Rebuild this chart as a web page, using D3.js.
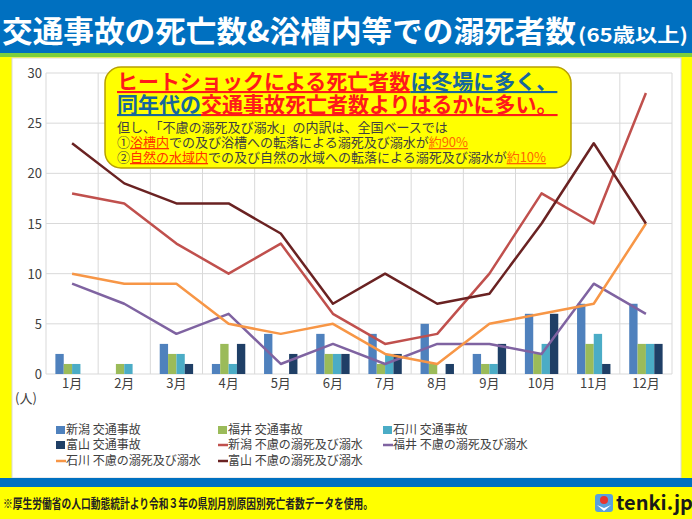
<!DOCTYPE html>
<html><head><meta charset="utf-8">
<script src="https://cdnjs.cloudflare.com/ajax/libs/d3/7.8.5/d3.min.js"></script>
<style>body{margin:0;background:#fff}svg{display:block}text{font-family:"Noto Sans CJK JP","Noto Sans",sans-serif}</style>
</head><body><svg id="c" width="692" height="519"></svg>
<script>
const months = ["1月","2月","3月","4月","5月","6月","7月","8月","9月","10月","11月","12月"];
const yTicks = [0,5,10,15,20,25,30];
// 交通事故 (bars)
const niigataTraffic = [2,0,3,1,4,4,4,5,2,6,7,7];
const fukuiTraffic   = [1,1,2,3,0,2,1,1,1,2,3,3];
const ishikawaTraffic= [1,1,2,1,0,2,2,0,1,3,4,3];
const toyamaTraffic  = [0,0,1,3,2,2,2,1,3,6,1,3];
// 不慮の溺死及び溺水 (lines)
const niigataDrown  = [18,17,13,10,13,6,3,4,10,18,15,28];
const fukuiDrown    = [9,7,4,6,1,3,1,3,3,2,9,6];
const ishikawaDrown = [10,9,9,5,4,5,2,1,5,6,7,15];
const toyamaDrown   = [23,19,17,17,14,7,10,7,8,15,23,15];

const barSeries = [
  {name:"新潟 交通事故", values:niigataTraffic, color:"#4f81bd"},
  {name:"福井 交通事故", values:fukuiTraffic, color:"#9bbb59"},
  {name:"石川 交通事故", values:ishikawaTraffic, color:"#4bacc6"},
  {name:"富山 交通事故", values:toyamaTraffic, color:"#1f3f66"}
];
const lineSeries = [
  {name:"新潟 不慮の溺死及び溺水", values:niigataDrown, color:"#c0504d"},
  {name:"福井 不慮の溺死及び溺水", values:fukuiDrown, color:"#7f63a1"},
  {name:"石川 不慮の溺死及び溺水", values:ishikawaDrown, color:"#f79646"},
  {name:"富山 不慮の溺死及び溺水", values:toyamaDrown, color:"#6a2222"}
];

const svg = d3.select("#c");
// backgrounds
svg.append("rect").attr("width",692).attr("height",519).attr("fill","#ffff00");
svg.append("rect").attr("width",692).attr("height",53).attr("fill","#0070c0");
svg.append("rect").attr("y",53).attr("width",692).attr("height",4).attr("fill","#7ccf3c");
svg.append("rect").attr("x",12).attr("y",58).attr("width",669).attr("height",420).attr("fill","#fff").attr("stroke","#d9d9d9");
svg.append("rect").attr("y",478).attr("width",692).attr("height",9).attr("fill","#0070c0");

// title
const t = svg.append("text").attr("x",2).attr("y",42).attr("fill","#fff").attr("font-weight","bold");
t.append("tspan").attr("font-size",30).text("交通事故の死亡数&浴槽内等での溺死者数").attr("textLength",574).attr("lengthAdjust","spacingAndGlyphs");
t.append("tspan").attr("font-size",19).attr("dx",2).text("(65歳以上)").attr("textLength",110).attr("lengthAdjust","spacingAndGlyphs");

// scales
const x = d3.scaleBand().domain(months).range([46,672]).padding(0);
const y = d3.scaleLinear().domain([0,30]).range([374,73]);
const inner = d3.scaleBand().domain(barSeries.map(d=>d.name)).range([x.bandwidth()*0.18, x.bandwidth()*0.82]).padding(0);

// gridlines
svg.append("g").selectAll("line").data(yTicks).join("line")
  .attr("x1",46).attr("x2",672).attr("y1",d=>y(d)).attr("y2",d=>y(d))
  .attr("stroke","#d9d9d9").attr("stroke-width",1);
svg.append("g").selectAll("line").data(d3.range(months.length+1)).join("line")
  .attr("x1",i=>i<months.length?x(months[i]):x.range()[1]).attr("x2",i=>i<months.length?x(months[i]):x.range()[1])
  .attr("y1",y(30)).attr("y2",y(0)).attr("stroke","#d9d9d9").attr("stroke-width",1);

// axes
const yAxis = svg.append("g").attr("transform","translate(42,0)").call(d3.axisLeft(y).tickValues(yTicks).tickSize(0).tickPadding(0));
yAxis.select(".domain").remove();
yAxis.selectAll("text").attr("font-size",13).attr("fill","#404040").attr("font-family","Noto Sans CJK JP").attr("dy","0.35em");
const xAxis = svg.append("g").attr("transform","translate(0,"+y(0)+")").call(d3.axisBottom(x).tickSize(0).tickPadding(5));
xAxis.select(".domain").remove();
xAxis.selectAll("text").attr("font-size",13).attr("fill","#404040").attr("font-family","Noto Sans CJK JP");
svg.append("text").attr("x",15).attr("y",403).attr("font-size",13).attr("fill","#404040").text("(人)");

// bars
barSeries.forEach(s=>{
  svg.append("g").selectAll("rect").data(s.values).join("rect")
    .attr("x",(d,i)=>x(months[i])+inner(s.name)).attr("width",inner.bandwidth())
    .attr("y",d=>y(d)).attr("height",d=>y(0)-y(d)).attr("fill",s.color);
});
// lines
const line = d3.line().x((d,i)=>x(months[i])+x.bandwidth()/2).y(d=>y(d));
lineSeries.forEach(s=>{
  svg.append("path").datum(s.values).attr("d",line).attr("fill","none")
    .attr("stroke",s.color).attr("stroke-width",2.5).attr("stroke-linejoin","round");
});

// annotation box
svg.append("rect").attr("x",105).attr("y",67).attr("width",466).attr("height",101).attr("rx",16)
  .attr("fill","#ffff00").attr("stroke","#b8a000").attr("stroke-width",1.5);
const l1 = svg.append("text").attr("x",117).attr("y",89).attr("font-size",21).attr("font-weight","bold");
l1.append("tspan").attr("fill","#ff1a1a").attr("text-decoration","underline").text("ヒートショックによる死亡者数");
l1.append("tspan").attr("fill","#17679c").attr("text-decoration","underline").text("は冬場に多く、");
const l2 = svg.append("text").attr("x",117).attr("y",112).attr("font-size",21).attr("font-weight","bold");
l2.append("tspan").attr("fill","#17679c").attr("text-decoration","underline").text("同年代の");
l2.append("tspan").attr("fill","#ff1a1a").attr("text-decoration","underline").text("交通事故死亡者数よりはるかに多い。");
svg.append("text").attr("x",117).attr("y",132).attr("font-size",13).attr("fill","#404040")
  .text("但し、「不慮の溺死及び溺水」の内訳は、全国ベースでは");
const s2 = svg.append("text").attr("x",117).attr("y",147).attr("font-size",13).attr("fill","#404040");
s2.append("tspan").text("①");
s2.append("tspan").attr("fill","#ff3300").attr("text-decoration","underline").text("浴槽内");
s2.append("tspan").text("での及び浴槽への転落による溺死及び溺水が");
s2.append("tspan").attr("fill","#ff6600").attr("text-decoration","underline").text("約90%");
const s3 = svg.append("text").attr("x",117).attr("y",162).attr("font-size",13).attr("fill","#404040");
s3.append("tspan").text("②");
s3.append("tspan").attr("fill","#ff3300").attr("text-decoration","underline").text("自然の水域内");
s3.append("tspan").text("での及び自然の水域への転落による溺死及び溺水が");
s3.append("tspan").attr("fill","#ff6600").attr("text-decoration","underline").text("約10%");

// legend
const legendItems = [
  {s:barSeries[0],type:"bar",col:0,row:0},{s:barSeries[1],type:"bar",col:1,row:0},{s:barSeries[2],type:"bar",col:2,row:0},
  {s:barSeries[3],type:"bar",col:0,row:1},{s:lineSeries[0],type:"line",col:1,row:1},{s:lineSeries[1],type:"line",col:2,row:1},
  {s:lineSeries[2],type:"line",col:0,row:2},{s:lineSeries[3],type:"line",col:1,row:2}
];
const colX = [56,218,383], rowY = [430,445,461];
legendItems.forEach(it=>{
  const g = svg.append("g").attr("transform",`translate(${colX[it.col]},${rowY[it.row]})`);
  if(it.type==="bar") g.append("rect").attr("x",0).attr("y",-4).attr("width",9).attr("height",8).attr("fill",it.s.color);
  else g.append("line").attr("x1",0).attr("x2",10).attr("y1",0).attr("y2",0).attr("stroke",it.s.color).attr("stroke-width",2.5);
  g.append("text").attr("x",10).attr("y",0).attr("dy","0.36em").attr("font-size",12).attr("fill","#404040").text(it.s.name);
});

// footer
svg.append("text").attr("x",3).attr("y",508).attr("font-size",13).attr("fill","#222").attr("font-weight","bold")
  .attr("textLength",370).attr("lengthAdjust","spacingAndGlyphs")
  .text("※厚生労働省の人口動態統計より令和３年の県別月別原因別死亡者数データを使用。");
// tenki.jp logo
const lg = svg.append("g").attr("transform","translate(604,503)");
lg.append("rect").attr("x",-9).attr("y",-9).attr("width",18).attr("height",18).attr("rx",3).attr("fill","#5aa0dc");
lg.append("circle").attr("cx",0).attr("cy",-3).attr("r",4).attr("fill","#e8352e");
lg.append("path").attr("d","M-7,2 L0,8 L7,2 L0,5 Z").attr("fill","#fff");
svg.append("text").attr("x",616).attr("y",510).attr("font-size",20).attr("font-weight","bold").attr("fill","#1a1a1a")
  .attr("font-family","Roboto, 'DejaVu Sans', sans-serif").text("tenki.jp");
</script></body></html>
